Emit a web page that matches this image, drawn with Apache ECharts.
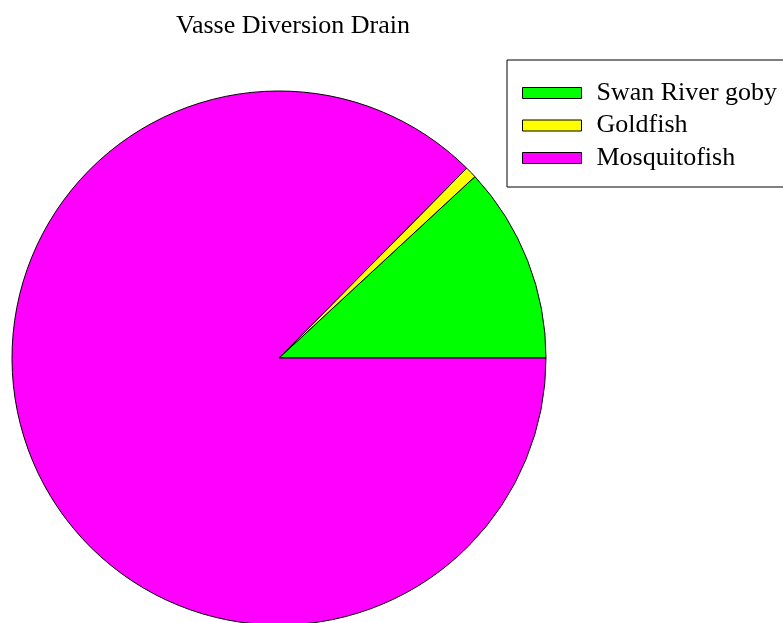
<!DOCTYPE html>
<html>
<head>
<meta charset="utf-8">
<script src="https://cdn.jsdelivr.net/npm/echarts@6/dist/echarts.min.js"></script>
<style>html,body{margin:0;padding:0;background:#fff}#c{width:783px;height:623px}</style>
</head>
<body>
<div id="c"></div>
<script>
const categories = ['Swan River goby', 'Goldfish', 'Mosquitofish'];
const values = [17, 1, 125];
const colors = ['#00ff00', '#ffff00', '#ff00ff'];
const titleText = 'Vasse Diversion Drain';

const chart = echarts.init(document.getElementById('c'), null, {renderer: 'canvas'});
const font = '"Liberation Serif", "Times New Roman", serif';
chart.setOption({
  animation: false,
  backgroundColor: '#fff',
  title: {
    text: titleText,
    left: 288, top: 8,
    textAlign: 'center',
    textStyle: {fontFamily: font, fontSize: 26, fontWeight: 'normal', color: '#000'}
  },
  legend: {
    orient: 'vertical',
    left: 507, top: 60,
    padding: [20, 30, 16, 15],
    itemWidth: 59, itemHeight: 11, itemGap: 6.5,
    icon: 'rect',
    borderColor: '#000', borderWidth: 1,
    itemStyle: {borderColor: '#000', borderWidth: 1},
    textStyle: {fontFamily: font, fontSize: 26, color: '#000', padding: [0, 0, 0, 10]},
    data: categories
  },
  series: [{
    type: 'pie',
    center: [279, 358],
    radius: 267,
    startAngle: 0,
    clockwise: false,
    label: {show: false},
    labelLine: {show: false},
    emphasis: {disabled: true},
    itemStyle: {borderColor: '#000', borderWidth: 1},
    data: categories.map((n, i) => ({name: n, value: values[i], itemStyle: {color: colors[i]}}))
  }]
});
</script>
</body>
</html>
